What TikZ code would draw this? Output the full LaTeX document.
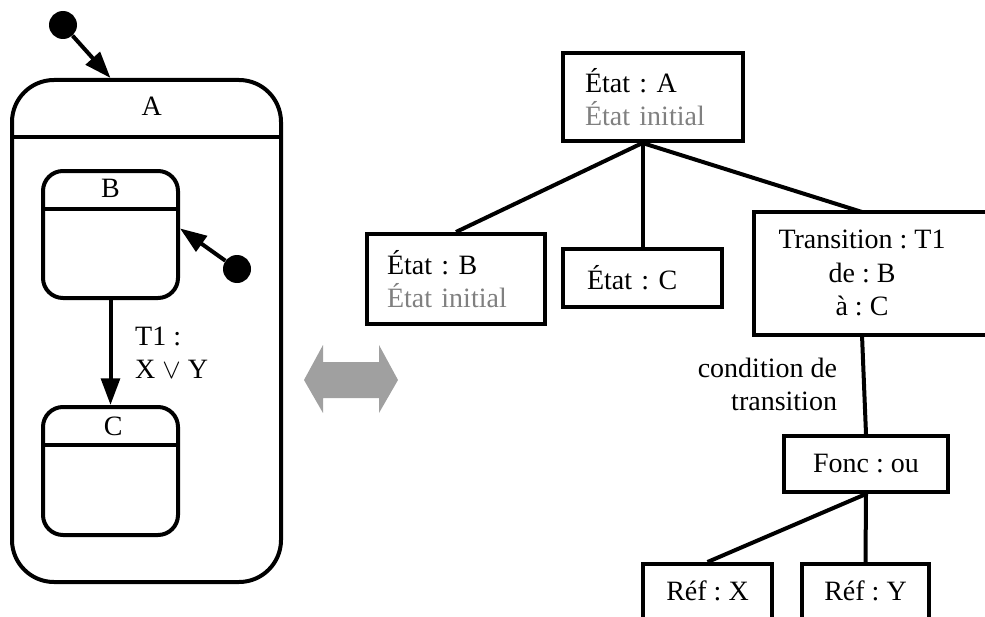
\documentclass[tikz,border=0pt]{standalone}
\usepackage{fontspec}
\setmainfont{Liberation Serif}
\usetikzlibrary{positioning,arrows.meta}
\definecolor{gristexte}{RGB}{128,128,128}
\definecolor{grisfleche}{RGB}{160,160,160}
\frenchspacing

\begin{document}
\begin{tikzpicture}
    [
        x=0.75pt, y=-0.75pt,
        every node/.style={font=\fontsize{21}{25}\selectfont},
        etat/.style={draw, line width=3pt, rounded corners=#1},
        boite/.style={draw, line width=3pt, inner ysep=0pt},
        trait/.style={line width=3pt},
        fleche/.style={line width=3pt, -{Triangle[length=20pt, width=14pt]}},
        depart/.style={circle, fill, inner sep=0pt, minimum size=21pt},
        titre/.style={inner sep=0pt}
    ]

    \useasboundingbox (0,0) rectangle (985,617);
    \clip (0,0) rectangle (985,617);

    % diagramme d'etats
    \node[etat=31.5pt, minimum width=201.75pt, minimum height=376.5pt] (A) at (146.5,331) {};
    \node[etat=15pt, minimum width=101.25pt, minimum height=95.25pt] (B) at (110.5,234.5) {};
    \node[etat=15pt, minimum width=101.25pt, minimum height=96pt] (C) at (110.5,471) {};
    \draw[trait] ([yshift=-44.25pt]A.north west) -- ([yshift=-44.25pt]A.north east);
    \draw[trait] ([yshift=-30pt]B.north west) -- ([yshift=-30pt]B.north east);
    \draw[trait] ([yshift=-30pt]C.north west) -- ([yshift=-30pt]C.north east);
    \node[titre, below=14pt of A.north, xshift=4pt] (tA) {A};
    \node[titre, below=7.3pt of B.north] (tB) {B};
    \node[titre, below=8.8pt of C.north, xshift=2pt] (tC) {C};

    \node[depart] (iniA) at (63,25) {};
    \node[depart] (iniB) at (237,269) {};
    \draw[fleche] (iniA) -- (A.north -| B.north);
    \draw[fleche] (iniB) -- (B.5);
    \draw[fleche] (B) -- node[titre, right=17pt, align=left] (T1) {T1 :\\X $\vee$ Y} (C);

    % double fleche
    \fill[grisfleche] (304,380) -- (323,345) -- (323,362) -- (379,362) -- (379,345)
        -- (398,380) -- (379,413) -- (379,398) -- (323,398) -- (323,413) -- cycle;

    % arbre
    \node[boite, minimum width=135pt, minimum height=66pt, text width=102pt, inner xsep=16.5pt, align=left]
        (etatA) at (653,97) {État : A\\\textcolor{gristexte}{État initial}};
    \node[boite, minimum width=133.5pt, minimum height=67.5pt, text width=103.5pt, inner xsep=15pt, align=left]
        (etatB) at (456,279) {État : B\\\textcolor{gristexte}{État initial}};
    \node[boite, minimum width=119.25pt, minimum height=43.5pt, text width=83.25pt, inner xsep=18pt, align=left]
        (etatC) at (642.5,278) {État : C};
    \node[align=center] (trans) at (862,273) {Transition : T1\\de : B\\à : C};
    \draw[trait] (754,212) rectangle (1000,335);
    \coordinate (transH) at (862,212);
    \coordinate (transB) at (862,335);
    \coordinate (jonction) at (etatC.north |- etatA.south);

    \draw[trait] (jonction) -- (etatB.north);
    \draw[trait] (jonction) -- (etatC.north);
    \draw[trait] (jonction) -- (transH);

    \node[boite, minimum width=123pt, minimum height=42pt] (fonc) at (866,464) {Fonc : ou};
    \draw[trait] (transB) -- node[titre, left=18.75pt, align=right] (cond) {condition de\\transition} (fonc.north);

    \node[boite, anchor=north, minimum width=96.75pt, text height=27pt, text depth=45pt] (refX) at (707.5,562) {Réf : X};
    \node[boite, anchor=north, minimum width=95.25pt, text height=27pt, text depth=45pt] (refY) at (865.5,562) {Réf : Y};
    \draw[trait] (fonc.south) -- (refX.north);
    \draw[trait] (fonc.south) -- (refY.north);
\end{tikzpicture}
\end{document}
